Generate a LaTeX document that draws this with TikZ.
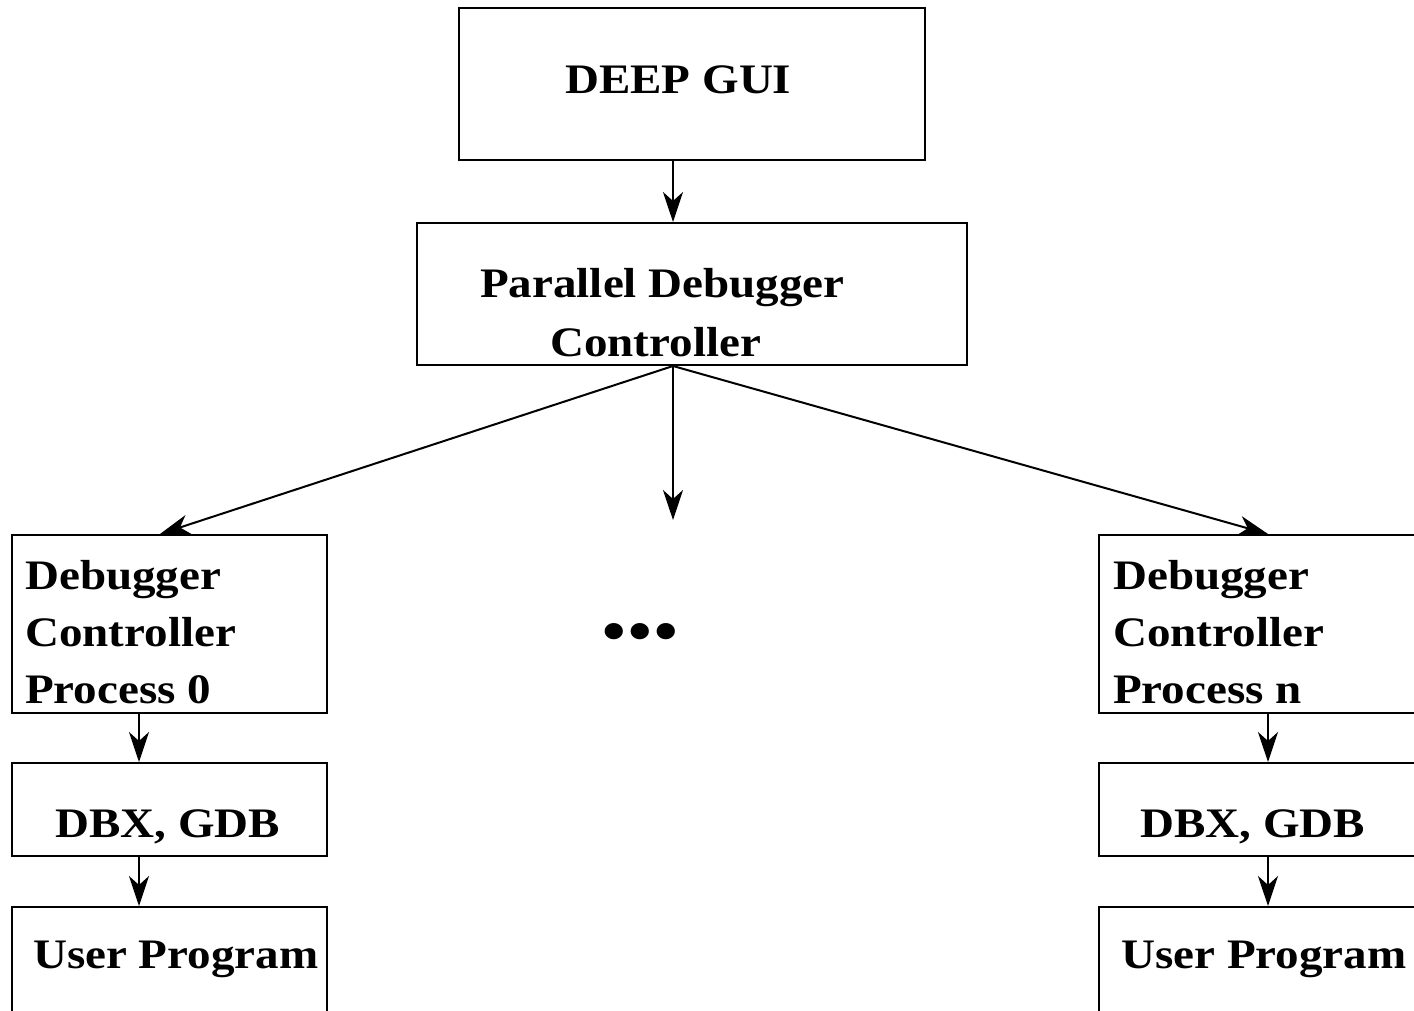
\documentclass[tikz,border=0pt]{standalone}
\usepackage{fontspec}
\setmainfont[FakeStretch=1.12]{Liberation Serif}
\usetikzlibrary{arrows.meta}
\begin{document}
\begin{tikzpicture}[x=1pt,y=-1pt,
  box/.style={draw=black,line width=2pt,rectangle,inner sep=0pt},
  lbl/.style={inner sep=0pt,anchor=base west,font=\fontsize{42}{56.7}\selectfont\bfseries,align=left},
  arr/.style={line width=2pt,-{Stealth[length=30pt,width=20pt,inset=9pt]}}]
\useasboundingbox (0,0) rectangle (1414,1011);
\clip (0,0) rectangle (1414,1011);
% boxes
\node[box,minimum width=466pt,minimum height=152pt] (gui) at (692,84) {};
\node[box,minimum width=550pt,minimum height=142pt] (pdc) at (692,294) {};
\node[box,minimum width=315pt,minimum height=178pt] (dc0) at (169.5,624) {};
\node[box,minimum width=315pt,minimum height=93pt] (db0) at (169.5,809.5) {};
\node[box,minimum width=315pt,minimum height=140pt] (up0) at (169.5,977) {};
\node[box,minimum width=340pt,minimum height=178pt] (dcn) at (1269,624) {};
\node[box,minimum width=340pt,minimum height=93pt] (dbn) at (1269,809.5) {};
\node[box,minimum width=340pt,minimum height=140pt] (upn) at (1269,977) {};
% labels
\node[lbl] (tgui) at (565,94) {DEEP GUI};
\node[lbl] (tpdc1) at (480,298) {Parallel Debugger};
\node[lbl] (tpdc2) at (550,356) {Controller};
\node[lbl] (tdc0) at (25,703) {Debugger\\Controller\\Process 0};
\node[lbl] (tdb0) at (55,837) {DBX, GDB};
\node[lbl] (tup0) at (33,968) {User Program};
\node[lbl] (tdcn) at (1113,703) {Debugger\\Controller\\Process n};
\node[lbl] (tdbn) at (1140,837) {DBX, GDB};
\node[lbl] (tupn) at (1121,968) {User Program};
\node[inner sep=0pt,anchor=base,font=\fontsize{60}{60}\selectfont\bfseries] (dots) at (640,651) {•\kern2.5pt•\kern2.5pt•};
% connector x positions
\coordinate (cx) at (673,0);
\coordinate (lx) at (160,0);
\coordinate (rx) at (1268,0);
\coordinate (lv) at (139,0);
\coordinate (midend) at (673,520);
% connectors
\draw[arr] (gui.south -| cx) -- (pdc.north -| cx);
\draw[arr] (pdc.south -| cx) -- (dc0.north -| lx);
\draw[arr] (pdc.south -| cx) -- (midend);
\draw[arr] (pdc.south -| cx) -- (dcn.north -| rx);
\draw[arr] (dc0.south -| lv) -- (db0.north -| lv);
\draw[arr] (db0.south -| lv) -- (up0.north -| lv);
\draw[arr] (dcn.south -| rx) -- (dbn.north -| rx);
\draw[arr] (dbn.south -| rx) -- (upn.north -| rx);
\end{tikzpicture}
\end{document}
